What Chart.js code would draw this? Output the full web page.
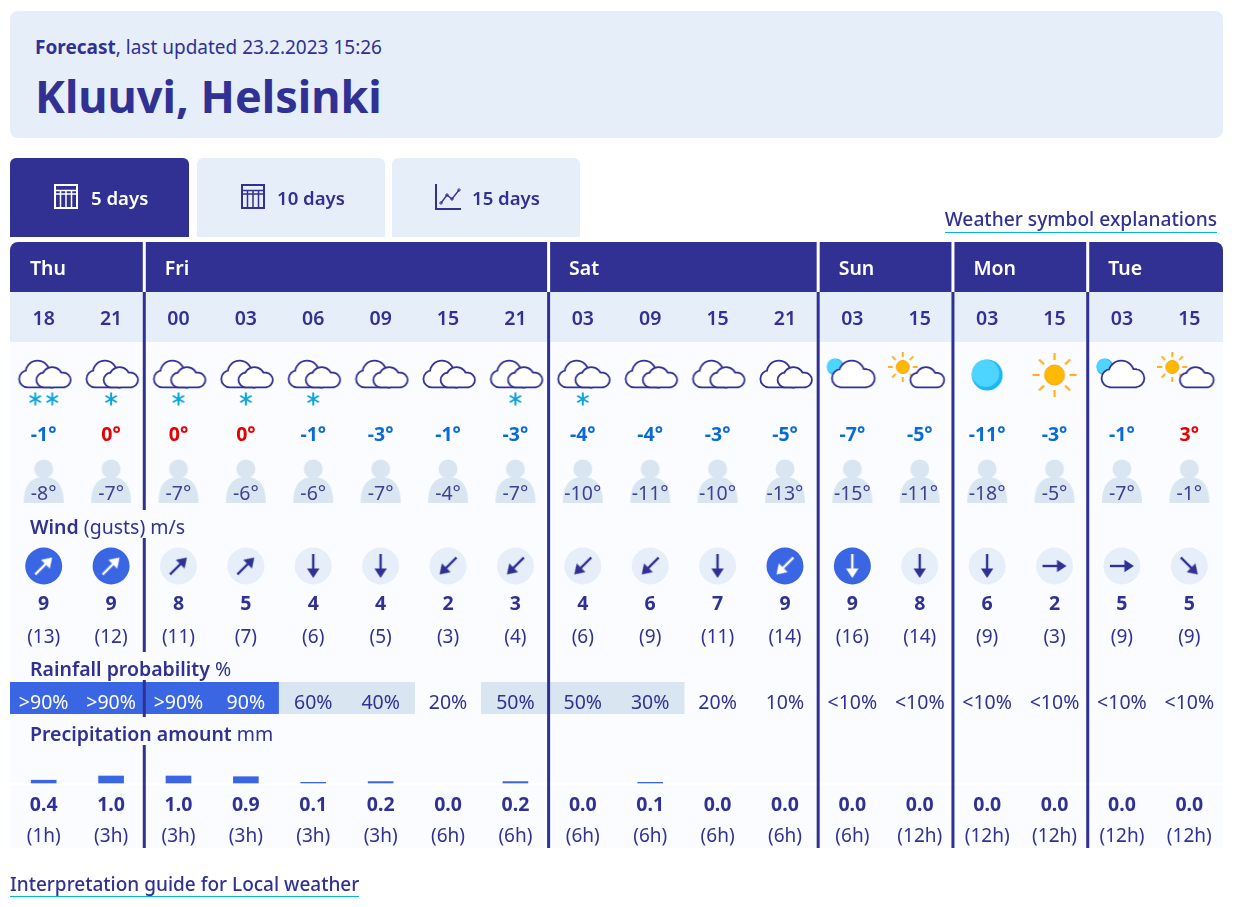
<!DOCTYPE html>
<html>
<head>
<meta charset="utf-8">
<title>Kluuvi, Helsinki</title>
<script src="https://cdn.jsdelivr.net/npm/chart.js@4/dist/chart.umd.min.js"></script>
<style>
    html, body { margin: 0; padding: 0; background: #fff; overflow: hidden; }
    body { font-family: "Noto Sans", sans-serif; color: #303193; width: 1253px; height: 907px; position: relative; }
    #forecast { position: absolute; left: 0; top: 0; }
    .head { position: absolute; left: 10px; top: 11px; width: 1213px; height: 127px; background: #e6eefa; border-radius: 8px; }
    .updated { position: absolute; left: 25px; top: 23px; font-size: 19px; line-height: 26px; white-space: nowrap; }
    .place { position: absolute; left: 25px; top: 49px; font-size: 45px; line-height: 72px; font-weight: 700; white-space: nowrap; }
    .tab { position: absolute; top: 158px; height: 79px; background: #e6eefa; border-radius: 6px 6px 0 0; font-size: 18.6px; font-weight: 600; line-height: 80px; white-space: nowrap; }
    .tab span { position: absolute; top: 0; }
    .tab svg { position: absolute; top: 26px; }
    .tab.on { background: #303193; color: #fff; }
    a { position: absolute; color: #303193; font-size: 19.2px; font-weight: 500; line-height: 26px; text-decoration: none; white-space: nowrap; border-bottom: 1px solid #00b8d4; }
</style>
</head>
<body>
<canvas id="forecast" width="1253" height="907"></canvas>
<div class="head">
    <div class="updated"><b>Forecast</b>, last updated 23.2.2023 15:26</div>
    <div class="place">Kluuvi, Helsinki</div>
</div>
<div class="tab on" style="left:10px;width:179px">
    <svg style="left:44px" width="24" height="25" fill="none" stroke="currentColor" stroke-width="2"><rect x="1" y="1" width="22" height="23"/><path d="M1 6.5h22M1 10h22M6.5 6v18M12 6v18M17.5 6v18" stroke-width="1.5"/></svg>
    <span style="left:81px">5 days</span>
</div>
<div class="tab" style="left:197px;width:188px">
    <svg style="left:44px" width="24" height="25" fill="none" stroke="currentColor" stroke-width="2"><rect x="1" y="1" width="22" height="23"/><path d="M1 6.5h22M1 10h22M6.5 6v18M12 6v18M17.5 6v18" stroke-width="1.5"/></svg>
    <span style="left:80px">10 days</span>
</div>
<div class="tab" style="left:392px;width:188px">
    <svg style="left:43px" width="26" height="26" fill="none" stroke="currentColor" stroke-width="2"><path d="M1 0v25h25"/><path d="M6 19l6-8 5 4 7-9" stroke-width="1.3"/><circle cx="6" cy="19" r="1.2" stroke-width="1"/><circle cx="12" cy="11" r="1.2" stroke-width="1"/><circle cx="17" cy="15" r="1.2" stroke-width="1"/><circle cx="24" cy="6" r="1.2" stroke-width="1"/></svg>
    <span style="left:80px">15 days</span>
</div>
<a style="right:36px;top:206px">Weather symbol explanations</a>
<a style="left:10px;top:872px;line-height:24px;font-size:19px">Interpretation guide for Local weather</a>

<script>
    const dayNames = ['Thu', 'Fri', 'Sat', 'Sun', 'Mon', 'Tue'];
    const dayColumns = [2, 6, 4, 2, 2, 2];
    const hours = ['18', '21', '00', '03', '06', '09', '15', '21', '03', '09', '15', '21', '03', '15', '03', '15', '03', '15'];
    const sky = ['cloudy', 'cloudy', 'cloudy', 'cloudy', 'cloudy', 'cloudy', 'cloudy', 'cloudy', 'cloudy', 'cloudy', 'cloudy', 'cloudy',
        'nightCloud', 'dayCloud', 'night', 'sun', 'nightCloud', 'dayCloud'];
    const snowflakes = [2, 1, 1, 1, 1, 0, 0, 1, 1, 0, 0, 0, 0, 0, 0, 0, 0, 0];
    const temps = [-1, 0, 0, 0, -1, -3, -1, -3, -4, -4, -3, -5, -7, -5, -11, -3, -1, 3];
    const feelsLike = [-8, -7, -7, -6, -6, -7, -4, -7, -10, -11, -10, -13, -15, -11, -18, -5, -7, -1];
    const windSpeed = [9, 9, 8, 5, 4, 4, 2, 3, 4, 6, 7, 9, 9, 8, 6, 2, 5, 5];
    const windGusts = [13, 12, 11, 7, 6, 5, 3, 4, 6, 9, 11, 14, 16, 14, 9, 3, 9, 9];
    const windHeading = [45, 45, 45, 45, 180, 180, 225, 225, 225, 225, 180, 225, 180, 180, 180, 90, 90, 135];
    const rainChance = [95, 95, 95, 90, 60, 40, 20, 50, 50, 30, 20, 10, 5, 5, 5, 5, 5, 5];
    const rainLabels = ['>90%', '>90%', '>90%', '90%', '60%', '40%', '20%', '50%', '50%', '30%', '20%', '10%', '<10%', '<10%', '<10%', '<10%', '<10%', '<10%'];
    const precipMm = [0.4, 1.0, 1.0, 0.9, 0.1, 0.2, 0.0, 0.2, 0.0, 0.1, 0.0, 0.0, 0.0, 0.0, 0.0, 0.0, 0.0, 0.0];
    const precipHours = [1, 3, 3, 3, 3, 3, 6, 6, 6, 6, 6, 6, 6, 12, 12, 12, 12, 12];

    const navy = '#303193', pale = '#e6eefa', tableBg = '#fafcff', blue = '#3a66e3', band = '#d9e6f2';
    const font = '"Noto Sans", sans-serif';

    // row positions in page pixels
    const tableTop = 342, tableBottom = 848, precipBase = 783, pxPerMm = 7;

    function icon(w, h, draw) {
        const c = document.createElement('canvas');
        c.width = w; c.height = h;
        const ctx = c.getContext('2d');
        ctx.translate(w / 2, h / 2);
        draw(ctx);
        return c;
    }

    function cloud(ctx, x, base, w, h) {
        const rSide = w * 0.2, rTop = w * 0.29;
        const shapes = new Path2D();
        shapes.arc(x + rSide, base - rSide, rSide, 0, Math.PI * 2);
        shapes.moveTo(x + w, base - rSide);
        shapes.arc(x + w - rSide, base - rSide, rSide, 0, Math.PI * 2);
        shapes.moveTo(x + w * 0.46 + rTop, base - h + rTop);
        shapes.arc(x + w * 0.46, base - h + rTop, rTop, 0, Math.PI * 2);
        shapes.rect(x + rSide, base - rSide * 2, w - rSide * 2, rSide * 2);
        ctx.strokeStyle = navy;
        ctx.lineWidth = 3.6;
        ctx.stroke(shapes);
        ctx.fillStyle = '#fff';
        ctx.fill(shapes);
    }

    function sun(ctx, x, y, r, inner, outer, width) {
        ctx.strokeStyle = '#ffb020';
        ctx.lineWidth = width;
        for (let a = 0; a < 8; a++) {
            const t = a * Math.PI / 4;
            ctx.beginPath();
            ctx.moveTo(x + Math.cos(t) * inner, y + Math.sin(t) * inner);
            ctx.lineTo(x + Math.cos(t) * outer, y + Math.sin(t) * outer);
            ctx.stroke();
        }
        ctx.beginPath();
        ctx.arc(x, y, r, 0, Math.PI * 2);
        ctx.fillStyle = '#ffb900';
        ctx.fill();
        ctx.strokeStyle = '#ff9f1c';
        ctx.lineWidth = 1;
        ctx.stroke();
    }

    function moon(ctx, x, y, r) {
        ctx.beginPath();
        ctx.arc(x, y, r, 0, Math.PI * 2);
        ctx.fillStyle = '#1fb6f5';
        ctx.fill();
        ctx.beginPath();
        ctx.arc(x - r * 0.1, y - r * 0.1, r * 0.88, 0, Math.PI * 2);
        ctx.fillStyle = '#4dd4ff';
        ctx.fill();
    }

    // icons are 64x48 with the column centre in the middle, cloud base just under +12
    const skyIcons = {
        cloudy: icon(64, 48, c => { cloud(c, -23.7, 12.5, 38, 25); cloud(c, -6.5, 12.5, 32.5, 18.5); }),
        nightCloud: icon(64, 48, c => { moon(c, -17, -7, 8.5); cloud(c, -19.5, 12.5, 41, 25); }),
        dayCloud: icon(64, 48, c => { sun(c, -17, -7, 6.5, 10, 15, 2); cloud(c, -8.5, 12.5, 32, 18.5); }),
        night: icon(64, 48, c => moon(c, 0, 1, 15.5)),
        sun: icon(64, 48, c => sun(c, 0, 1, 10, 15, 22, 2.2))
    };

    function flake(c, x) {
        c.strokeStyle = '#0ea5dc';
        c.lineWidth = 2;
        for (let a = 0; a < 3; a++) {
            const t = Math.PI / 2 + a * Math.PI / 3;
            c.beginPath();
            c.moveTo(x + Math.cos(t) * 6.5, Math.sin(t) * 6.5);
            c.lineTo(x - Math.cos(t) * 6.5, -Math.sin(t) * 6.5);
            c.stroke();
        }
    }
    const flakeIcons = {
        1: icon(36, 16, c => flake(c, 0)),
        2: icon(36, 16, c => { flake(c, -8.5); flake(c, 8.5); })
    };

    const personIcon = icon(44, 48, c => {
        c.fillStyle = band;
        c.beginPath();
        c.arc(0, -12, 9.5, 0, Math.PI * 2);
        c.fill();
        c.beginPath();
        c.moveTo(-20, 22);
        c.bezierCurveTo(-20, 4, -13, -4, 0, -4);
        c.bezierCurveTo(13, -4, 20, 4, 20, 22);
        c.closePath();
        c.fill();
    });

    function arrow(color) {
        return icon(28, 28, c => {
            c.strokeStyle = c.fillStyle = color;
            c.lineWidth = 2.4;
            c.beginPath();
            c.moveTo(0, 12);
            c.lineTo(0, -4);
            c.stroke();
            c.beginPath();
            c.moveTo(0, -12);
            c.lineTo(6.2, -2.5);
            c.lineTo(-6.2, -2.5);
            c.closePath();
            c.fill();
        });
    }
    const arrowNavy = arrow(navy), arrowWhite = arrow('#fff');

    const isStrong = i => windSpeed[i] >= 9;
    const degrees = v => v + '°';

    // one row of values centred over the columns
    function rowText(chart, values, y, style, color) {
        const { ctx, scales } = chart;
        ctx.font = style + ' ' + font;
        ctx.textAlign = 'center';
        ctx.textBaseline = 'middle';
        values.forEach((v, i) => {
            ctx.fillStyle = typeof color === 'function' ? color(i) : color;
            ctx.fillText(v, scales.x.getPixelForValue(i), y);
        });
    }

    function sectionLabel(ctx, strong, rest, y) {
        ctx.textAlign = 'left';
        ctx.textBaseline = 'middle';
        ctx.font = '600 19.5px ' + font;
        const w = ctx.measureText(strong + ' ').width;
        // the label sits on its own strip, which breaks the first day divider
        ctx.fillStyle = tableBg;
        ctx.fillRect(10, y - 18, 300, 28);
        ctx.fillStyle = navy;
        ctx.fillText(strong, 30, y);
        ctx.font = '400 19.5px ' + font;
        ctx.fillText(rest, 30 + w, y);
    }

    const dividerEdges = () => {
        let n = 0;
        return dayColumns.map(c => (n += c));
    };

    const tableBackdrop = {
        id: 'tableBackdrop',
        beforeDraw(chart) {
            const { ctx, scales: { x } } = chart;
            const left = x.left, right = x.right;
            ctx.save();
            ctx.fillStyle = navy;
            ctx.beginPath();
            ctx.roundRect(left, 242, right - left, 50, [8, 8, 0, 0]);
            ctx.fill();
            ctx.fillStyle = pale;
            ctx.fillRect(left, 292, right - left, 50);
            ctx.fillStyle = tableBg;
            ctx.fillRect(left, tableTop, right - left, tableBottom - tableTop);
            ctx.fillStyle = '#fff';
            ctx.fillRect(left, precipBase, right - left, 2);
            ctx.restore();
        }
    };

    const tableText = {
        id: 'tableText',
        afterDatasetsDraw(chart) {
            const { ctx, scales: { x } } = chart;
            const step = (x.right - x.left) / hours.length;
            ctx.save();
            dividerEdges().forEach(n => {
                if (n >= hours.length) return;
                const px = x.left + n * step - 2;
                ctx.fillStyle = '#fff';
                ctx.fillRect(px, 242, 3, 50);
                ctx.fillStyle = navy;
                ctx.fillRect(px, 292, 3, tableBottom - 292);
            });
            ctx.textAlign = 'left';
            ctx.textBaseline = 'middle';
            ctx.font = '600 19.5px ' + font;
            ctx.fillStyle = '#fff';
            let n = 0;
            dayNames.forEach((d, i) => {
                ctx.fillText(d, x.left + n * step + 20, 269);
                n += dayColumns[i];
            });
            sectionLabel(ctx, 'Wind', '(gusts) m/s', 528);
            sectionLabel(ctx, 'Rainfall probability', '%', 670);
            sectionLabel(ctx, 'Precipitation amount', 'mm', 735);
            rowText(chart, temps.map(degrees), 435, '700 19.5px', i => temps[i] < 0 ? '#0a6bd6' : '#e60000');
            rowText(chart, feelsLike.map(degrees), 494, '400 19.5px', '#3f418f');
            rowText(chart, windSpeed, 604, '700 19.5px', navy);
            rowText(chart, windGusts.map(v => '(' + v + ')'), 638, '400 19px', navy);
            rowText(chart, rainLabels, 703, '400 19.5px', i => rainChance[i] >= 90 ? '#fff' : navy);
            rowText(chart, precipMm.map(v => v.toFixed(1)), 805, '700 19.5px', navy);
            rowText(chart, precipHours.map(v => '(' + v + 'h)'), 837, '400 19px', navy);
            ctx.restore();
        }
    };

    const rowPoints = (y, keep) => hours.map((h, i) => (!keep || keep(i)) ? y : null);
    const pointRow = extra => Object.assign({ type: 'line', yAxisID: 'yRow', showLine: false, pointRadius: 10, pointBorderWidth: 0 }, extra);

    new Chart(document.getElementById('forecast'), {
        type: 'bar',
        data: {
            labels: hours,
            datasets: [
                {
                    label: 'Rainfall probability',
                    yAxisID: 'yRow',
                    grouped: false,
                    barPercentage: 1.02,
                    categoryPercentage: 1,
                    order: 6,
                    data: rainChance.map(v => v >= 30 ? [682, 714] : null),
                    backgroundColor: rainChance.map(v => v >= 90 ? blue : band)
                },
                {
                    label: 'Precipitation',
                    yAxisID: 'yMm',
                    grouped: false,
                    barThickness: 25,
                    order: 5,
                    data: precipMm.map(v => v > 0 ? v : null),
                    backgroundColor: blue
                },
                pointRow({
                    label: 'Wind disc',
                    order: 4,
                    data: rowPoints(566),
                    pointRadius: 18.5,
                    pointBackgroundColor: ctx => isStrong(ctx.dataIndex) ? blue : pale
                }),
                pointRow({
                    label: 'Wind heading',
                    order: 3,
                    data: rowPoints(566),
                    pointStyle: ctx => isStrong(ctx.dataIndex) ? arrowWhite : arrowNavy,
                    pointRotation: ctx => windHeading[ctx.dataIndex]
                }),
                pointRow({
                    label: 'Sky',
                    order: 2,
                    data: rowPoints(374),
                    pointStyle: ctx => skyIcons[sky[ctx.dataIndex]]
                }),
                pointRow({
                    label: 'Snow',
                    order: 2,
                    data: rowPoints(399, i => snowflakes[i] > 0),
                    pointStyle: ctx => flakeIcons[snowflakes[ctx.dataIndex]] || 'circle'
                }),
                pointRow({
                    label: 'Feels like',
                    order: 2,
                    data: rowPoints(481),
                    pointStyle: personIcon
                })
            ]
        },
        options: {
            responsive: false,
            animation: false,
            events: [],
            layout: { autoPadding: false, padding: { left: 10, right: 30, top: 292, bottom: 907 - tableBottom } },
            plugins: { legend: { display: false }, tooltip: { enabled: false } },
            scales: {
                x: {
                    position: 'top',
                    offset: true,
                    grid: { display: false },
                    border: { display: false },
                    afterFit: s => { s.height = 50; s.paddingLeft = 0; s.paddingRight = 0; },
                    ticks: {
                        autoSkip: false,
                        maxRotation: 0,
                        padding: 3,
                        color: navy,
                        font: { family: '"Noto Sans"', size: 19.5, weight: '600' }
                    }
                },
                yRow: { axis: 'y', display: false, reverse: true, min: tableTop, max: tableBottom },
                yMm: {
                    axis: 'y',
                    display: false,
                    min: (precipBase - tableBottom) / pxPerMm,
                    max: (precipBase - tableTop) / pxPerMm
                }
            }
        },
        plugins: [tableBackdrop, tableText]
    });
</script>
</body>
</html>
